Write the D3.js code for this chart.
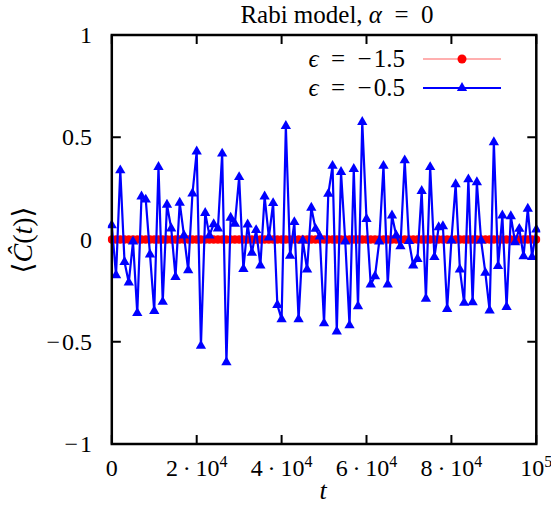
<!DOCTYPE html>
<html>
<head>
<meta charset="utf-8">
<script src="https://cdn.jsdelivr.net/npm/d3@7"></script>
<style>
  html, body { margin: 0; padding: 0; background: #fff; }
  svg text { font-family: "Liberation Serif", "DejaVu Serif", serif; fill: #000; }
</style>
</head>
<body>
<div id="chart"></div>
<script>
// time grid (t = 0 ... 1e5, step 1e3)
const tGrid = d3.range(0, 100001, 1000);

// eps = -1.5 : stays at zero
const redValues = [
  0, 0, 0, 0, 0, 0, 0, 0, 0, 0, 0, 0, 0, 0, 0, 0, 0, 0, 0, 0,
  0, 0, 0, 0, 0, 0, 0, 0, 0, 0, 0, 0, 0, 0, 0, 0, 0, 0, 0, 0,
  0, 0, 0, 0, 0, 0, 0, 0, 0, 0, 0, 0, 0, 0, 0, 0, 0, 0, 0, 0,
  0, 0, 0, 0, 0, 0, 0, 0, 0, 0, 0, 0, 0, 0, 0, 0, 0, 0, 0, 0,
  0, 0, 0, 0, 0, 0, 0, 0, 0, 0, 0, 0, 0, 0, 0, 0, 0, 0, 0, 0, 0
];

// eps = -0.5
const blueValues = [
  0.07, -0.175, 0.338, -0.11, -0.21, -0.01, -0.36, 0.21, 0.195, -0.073,
  -0.35, 0.355, -0.305, 0.17, 0.054, -0.183, 0.18, 0.02, -0.15, 0.225,
  0.43, -0.52, 0.13, 0.02, 0.075, 0.054, 0.42, -0.60, 0.106, 0.077,
  0.305, -0.144, 0.073, -0.065, 0.046, -0.127, 0.21, 0.01, 0.178, -0.32,
  -0.39, 0.555, -0.08, 0.085, -0.39, -0.005, -0.147, 0.155, 0.052, 0.015,
  -0.41, 0.223, 0.36, -0.45, 0.33, -0.01, -0.42, 0.345, -0.326, 0.575,
  0.10, -0.22, -0.18, -0.01, 0.36, -0.22, 0.117, 0.02, -0.033, 0.387,
  -0.008, -0.127, -0.095, 0.237, -0.29, 0.354, -0.086, 0.06, 0.065, -0.34,
  -0.005, 0.27, -0.147, -0.31, 0.294, -0.307, 0.28, -0.005, -0.163, -0.347,
  0.476, -0.13, 0.117, -0.33, 0.114, -0.013, 0.052, -0.082, 0.15, -0.086,
  0.049
];

const yTicks = [-1, -0.5, 0, 0.5, 1];
const yTickLabels = ["\u2212\u200a1", "\u2212\u200a0.5", "0", "0.5", "1"];
const xTicks = [0, 20000, 40000, 60000, 80000, 100000];
const xTickMantissa = ["0", "2\u2009\u00b7\u200910", "4\u2009\u00b7\u200910", "6\u2009\u00b7\u200910", "8\u2009\u00b7\u200910", "10"];
const xTickExponent = ["", "4", "4", "4", "4", "5"];
const legendLabels = ["\u2212\u200a1.5", "\u2212\u200a0.5"];

const width = 551;
const height = 508;
const plot = { left: 111.8, right: 536.3, top: 35, bottom: 444 };

const svg = d3.select("#chart")
  .append("svg")
  .attr("width", width)
  .attr("height", height);

const x = d3.scaleLinear().domain([0, 100000]).range([plot.left, plot.right]);
const y = d3.scaleLinear().domain([-1, 1]).range([plot.bottom, plot.top]);

const clip = svg.append("defs").append("clipPath").attr("id", "clip");
clip.append("rect")
  .attr("x", plot.left - 4)
  .attr("y", plot.top)
  .attr("width", plot.right - plot.left + 8)
  .attr("height", plot.bottom - plot.top);

const tickLen = 9;

// ticks (inward, mirrored)
const tickG = svg.append("g").attr("stroke", "#000").attr("stroke-width", 2);
xTicks.forEach((t) => {
  tickG.append("line").attr("x1", x(t)).attr("x2", x(t)).attr("y1", plot.bottom).attr("y2", plot.bottom - tickLen);
  tickG.append("line").attr("x1", x(t)).attr("x2", x(t)).attr("y1", plot.top).attr("y2", plot.top + tickLen);
});
yTicks.forEach((v) => {
  tickG.append("line").attr("x1", plot.left).attr("x2", plot.left + tickLen).attr("y1", y(v)).attr("y2", y(v));
  tickG.append("line").attr("x1", plot.right).attr("x2", plot.right - tickLen).attr("y1", y(v)).attr("y2", y(v));
});

// tick labels
svg.append("g")
  .selectAll("text")
  .data(yTicks)
  .join("text")
  .attr("x", 92)
  .attr("y", (d) => y(d) + 8)
  .attr("text-anchor", "end")
  .attr("font-size", 24)
  .text((d, i) => yTickLabels[i]);

const xl = svg.append("g")
  .selectAll("text")
  .data(xTicks)
  .join("text")
  .attr("x", (d) => x(d))
  .attr("y", 476)
  .attr("text-anchor", "middle")
  .attr("font-size", 24);
xl.append("tspan").text((d, i) => xTickMantissa[i]);
xl.append("tspan")
  .attr("dy", -9)
  .attr("font-size", 16)
  .text((d, i) => xTickExponent[i]);

// axis titles
svg.append("text")
  .attr("x", 323)
  .attr("y", 499)
  .attr("text-anchor", "middle")
  .attr("font-size", 26)
  .attr("font-style", "italic")
  .text("t");

const yLab = svg.append("text")
  .attr("transform", "translate(32,240) rotate(-90)")
  .attr("text-anchor", "middle")
  .attr("font-size", 28);
yLab.append("tspan").text("\u27e8");
yLab.append("tspan").attr("font-style", "italic").text("C\u0302");
yLab.append("tspan").text("(");
yLab.append("tspan").attr("font-style", "italic").text("t");
yLab.append("tspan").text(")\u27e9");

// title
svg.append("text")
  .attr("x", 337)
  .attr("y", 23)
  .attr("text-anchor", "middle")
  .attr("font-size", 25)
  .html('Rabi model, <tspan font-style="italic">\u03b1</tspan>\u2002=\u20020');

// series
const line = d3.line()
  .x((d) => x(d.t))
  .y((d) => y(d.v));

const redData = tGrid.map((t, i) => ({ t, v: redValues[i] }));
const blueData = tGrid.map((t, i) => ({ t, v: blueValues[i] }));

const plotG = svg.append("g").attr("clip-path", "url(#clip)");

plotG.append("path")
  .datum(redData)
  .attr("fill", "none")
  .attr("stroke", "#ff0000")
  .attr("stroke-width", 1)
  .attr("d", line);

plotG.append("g")
  .selectAll("circle")
  .data(redData)
  .join("circle")
  .attr("cx", (d) => x(d.t))
  .attr("cy", (d) => y(d.v))
  .attr("r", 4.2)
  .attr("fill", "#ff0000");

plotG.append("path")
  .datum(blueData)
  .attr("fill", "none")
  .attr("stroke", "#0000ff")
  .attr("stroke-width", 2.2)
  .attr("stroke-linejoin", "round")
  .attr("d", line);

const tri = d3.symbol().type(d3.symbolTriangle).size(46);
plotG.append("g")
  .selectAll("path")
  .data(blueData)
  .join("path")
  .attr("transform", (d) => `translate(${x(d.t)},${y(d.v)})`)
  .attr("d", tri)
  .attr("fill", "#0000ff");

// border
svg.append("rect")
  .attr("x", plot.left)
  .attr("y", plot.top)
  .attr("width", plot.right - plot.left)
  .attr("height", plot.bottom - plot.top)
  .attr("fill", "none")
  .attr("stroke", "#000")
  .attr("stroke-width", 2.5);

// legend
const legend = [
  { label: legendLabels[0], color: "#ff0000", y: 59, marker: "circle" },
  { label: legendLabels[1], color: "#0000ff", y: 88, marker: "triangle" },
];
const lg = svg.append("g");
legend.forEach((e) => {
  const t = lg.append("text")
    .attr("x", 405)
    .attr("y", e.y + 8)
    .attr("text-anchor", "end")
    .attr("font-size", 25);
  t.append("tspan").attr("font-style", "italic").text("\u03f5");
  t.append("tspan").text("\u2002=\u2002" + e.label);

  lg.append("line")
    .attr("x1", 423)
    .attr("x2", 501)
    .attr("y1", e.y)
    .attr("y2", e.y)
    .attr("stroke", e.marker === "circle" ? "#ff6060" : e.color)
    .attr("stroke-width", e.marker === "circle" ? 1.2 : 2.2);
  if (e.marker === "circle") {
    lg.append("circle").attr("cx", 462).attr("cy", e.y).attr("r", 4.5).attr("fill", e.color);
  } else {
    lg.append("path").attr("transform", `translate(462,${e.y})`).attr("d", tri).attr("fill", e.color);
  }
});
</script>
</body>
</html>
